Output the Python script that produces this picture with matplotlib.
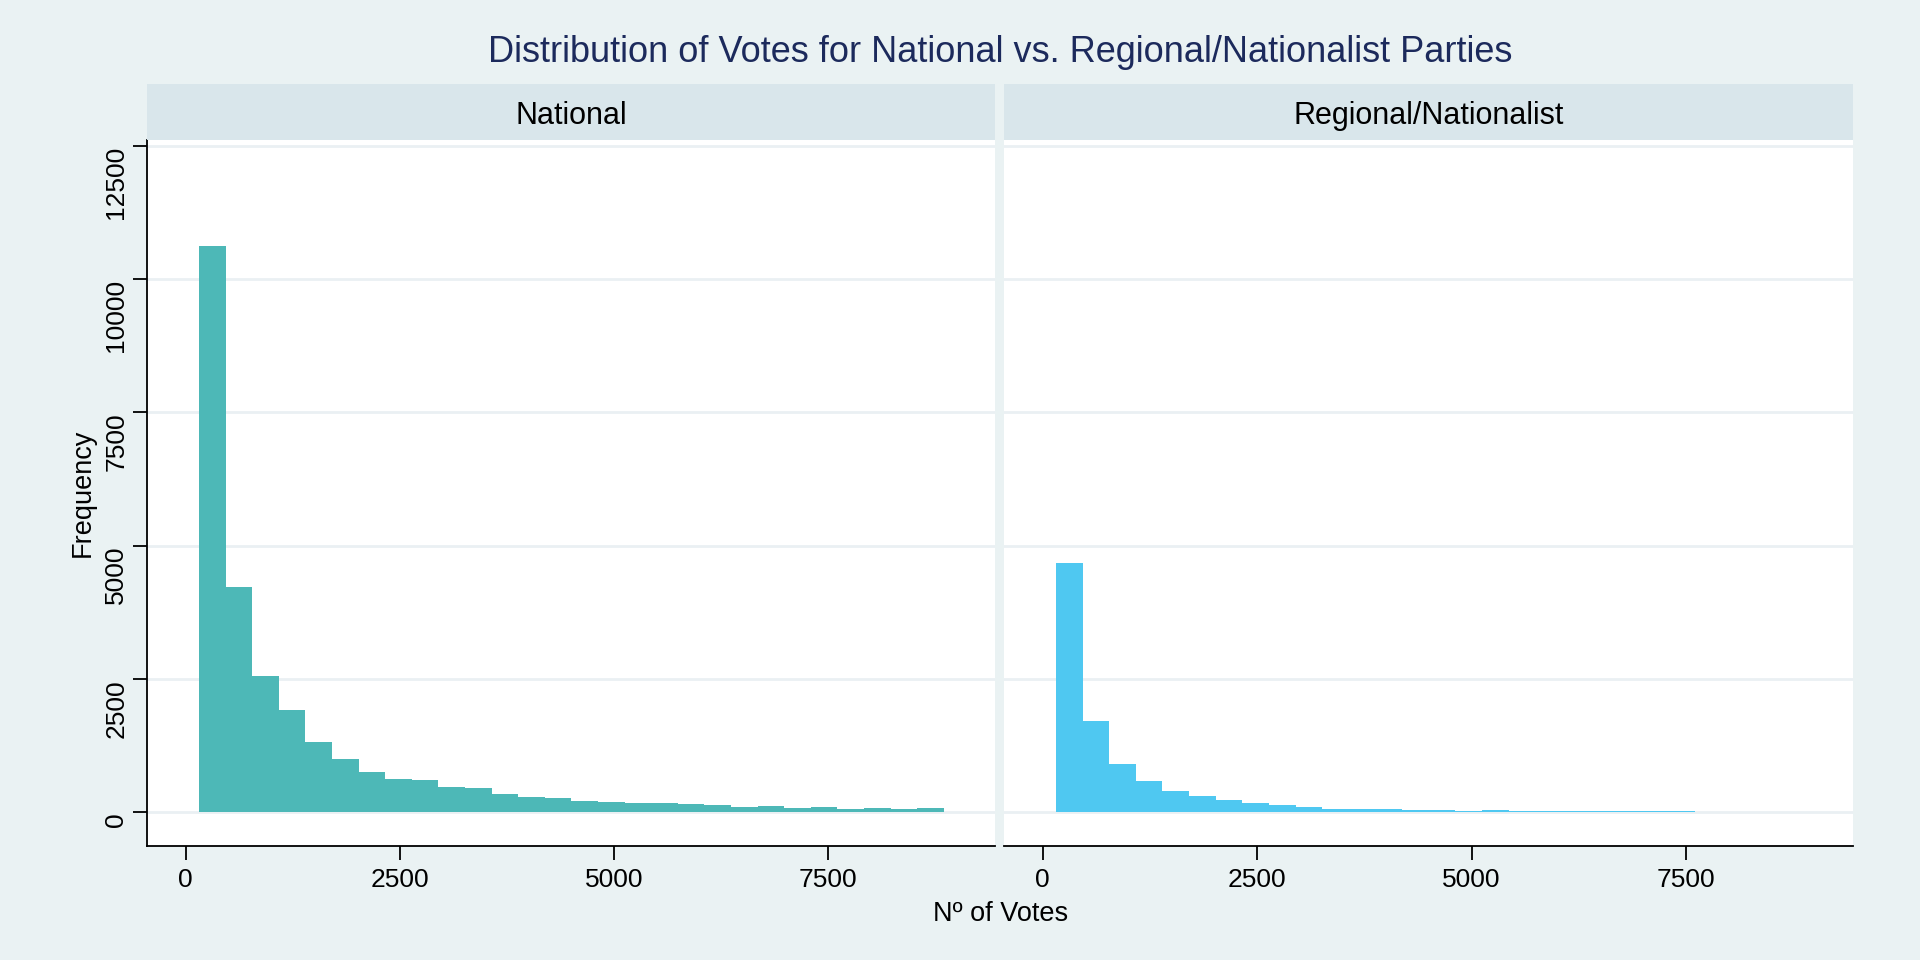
import numpy as np
import matplotlib
matplotlib.use('Agg')
import matplotlib.pyplot as plt

plt.rcParams['font.family'] = ['Liberation Sans', 'DejaVu Sans']

# histogram bins (common to both panels)
vote_min = 155
vote_max = 8849
n_bins = 28

panels = ['National', 'Regional/Nationalist']
national_counts = [10620, 4226, 2558, 1920, 1320, 1001, 757, 626, 607, 476,
                   457, 345, 289, 270, 214, 195, 176, 176, 157, 139,
                   101, 120, 82, 101, 64, 82, 64, 82]
regional_counts = [4677, 1714, 913, 589, 401, 308, 233, 176, 139, 101,
                   64, 64, 64, 45, 45, 30, 45, 20, 20, 30,
                   20, 20, 20, 20, 0, 0, 0, 0]
panel_counts = [national_counts, regional_counts]
panel_colors = ['#4DB8B7', '#4FC8F1']

y_ticks = [0, 2500, 5000, 7500, 10000, 12500]
x_ticks = [0, 2500, 5000, 7500]

BG = '#EAF2F3'
STRIP = '#D9E6EB'
GRID = '#EAF0F3'
TITLE = '#1C2A5C'

edges = np.linspace(vote_min, vote_max, n_bins + 1)

fig = plt.figure(figsize=(19.2, 9.6), dpi=100, facecolor=BG)

ax_boxes = [(0.0766, 0.1191, 0.4416, 0.7351), (0.5229, 0.1191, 0.4422, 0.7351)]

for i, (name, counts, color, box) in enumerate(zip(panels, panel_counts, panel_colors, ax_boxes)):
    ax = fig.add_axes(box)
    ax.set_facecolor('white')
    ax.hist(edges[:-1], bins=edges, weights=counts, color=color, zorder=3)
    ax.set_xlim(-450, 9447)
    ax.set_ylim(-625, 12608)
    ax.set_yticks(y_ticks)
    ax.set_xticks(x_ticks)
    ax.grid(axis='y', color=GRID, linewidth=2, zorder=1)
    ax.set_axisbelow(True)
    for side in ['top', 'right']:
        ax.spines[side].set_visible(False)
    ax.spines['bottom'].set_linewidth(1.3)
    ax.tick_params(axis='x', length=10, width=1.3, pad=6, labelsize=19)
    if i == 0:
        ax.spines['left'].set_linewidth(1.3)
        ax.tick_params(axis='y', length=10, width=1.3, pad=3.5, labelsize=19)
        ax.set_yticklabels([str(t) for t in y_ticks], rotation=90, va='top')
    else:
        ax.spines['left'].set_visible(False)
        ax.tick_params(axis='y', left=False, labelleft=False)

    # strip header
    sx, sy, sw, sh = box
    strip = fig.add_axes((sx, sy + sh, sw, 0.0583))
    strip.set_facecolor(STRIP)
    strip.set_xticks([])
    strip.set_yticks([])
    for sp in strip.spines.values():
        sp.set_visible(False)
    strip.text(0.5, 0.42, name, ha='center', va='center', fontsize=22, color='black')

fig.text(0.521, 0.945, 'Distribution of Votes for National vs. Regional/Nationalist Parties',
         ha='center', va='center', fontsize=26, color=TITLE)
fig.text(0.521, 0.048, 'Nº of Votes', ha='center', va='center', fontsize=19.5, color='black')
fig.text(0.043, 0.487, 'Frequency', ha='center', va='center', rotation=90,
         fontsize=19.5, color='black')

plt.savefig('out.png', dpi=100, facecolor=BG)
plt.close()
